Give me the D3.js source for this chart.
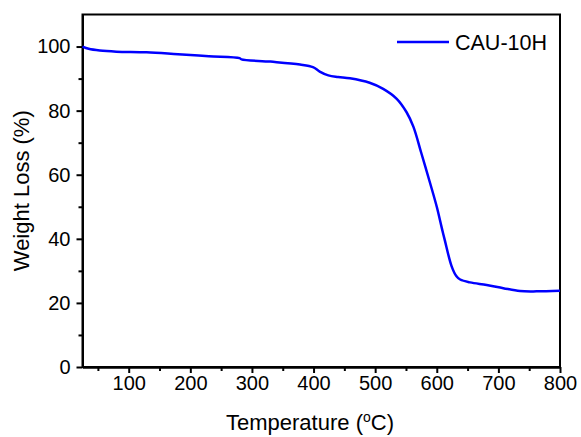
<!DOCTYPE html>
<html>
<head>
<meta charset="utf-8">
<script src="https://cdn.jsdelivr.net/npm/d3@7"></script>
<style>
  html, body { margin: 0; padding: 0; background: #fff; }
  svg { display: block; font-family: Arial, "Liberation Sans", sans-serif; }
</style>
</head>
<body>
<svg id="chart" width="581" height="437"></svg>
<script>
// ---- data ----
const temperature = [25, 35, 53, 80, 129, 180, 230, 280, 283, 330, 378, 399, 410, 424, 440, 459, 491, 513, 535, 551, 562, 575, 589, 600, 608, 613, 624, 632, 638, 654, 681, 708, 735, 762, 800];
const weight = [100, 99.3, 98.75, 98.4, 98.2, 97.6, 97.0, 96.4, 96.0, 95.3, 94.4, 93.6, 92.2, 91.0, 90.5, 90.1, 88.7, 86.8, 83.7, 79.5, 75.0, 66.7, 57.5, 50.0, 43.5, 39.6, 31.5, 28.3, 27.3, 26.4, 25.6, 24.6, 23.7, 23.6, 23.8];
const xMajorTicks = [100, 200, 300, 400, 500, 600, 700, 800];
const xMinorTicks = [50, 150, 250, 350, 450, 550, 650, 750];
const yMajorTicks = [0, 20, 40, 60, 80, 100];
const yMinorTicks = [10, 30, 50, 70, 90];
const seriesName = "CAU-10H";

// ---- layout ----
const mLeft = 82.5, mRight = 560, mTop = 14.5, mBottom = 367;
const FONT = "Arial, 'Liberation Sans', sans-serif";
const svg = d3.select("#chart");
const x = d3.scaleLinear().domain([25, 800]).range([mLeft, mRight]);
const y = d3.scaleLinear().domain([0, 110]).range([mBottom, mTop]);

// frame
svg.append("rect")
  .attr("x", mLeft).attr("y", mTop)
  .attr("width", mRight - mLeft).attr("height", mBottom - mTop)
  .attr("fill", "none").attr("stroke", "#000").attr("stroke-width", 2);

function styleAxis(g) {
  g.attr("font-family", FONT);
  g.select(".domain").attr("stroke", "#000").attr("stroke-width", 2);
  g.selectAll(".tick line").attr("stroke", "#000").attr("stroke-width", 2);
  g.selectAll(".tick text").attr("fill", "#000").attr("font-size", "20px")
    .attr("font-family", FONT);
}

// x axis
const gx = svg.append("g").attr("transform", `translate(0,${mBottom})`)
  .call(d3.axisBottom(x).tickValues(xMajorTicks).tickFormat(d3.format("d")).tickSize(6).tickPadding(3).tickSizeOuter(0));
styleAxis(gx);
const gxm = svg.append("g").attr("transform", `translate(0,${mBottom})`)
  .call(d3.axisBottom(x).tickValues(xMinorTicks).tickFormat("").tickSize(4).tickSizeOuter(0));
styleAxis(gxm);

// y axis
const gy = svg.append("g").attr("transform", `translate(${mLeft},0)`)
  .call(d3.axisLeft(y).tickValues(yMajorTicks).tickFormat(d3.format("d")).tickSize(6).tickPadding(6).tickSizeOuter(0));
styleAxis(gy);
const gym = svg.append("g").attr("transform", `translate(${mLeft},0)`)
  .call(d3.axisLeft(y).tickValues(yMinorTicks).tickFormat("").tickSize(4).tickSizeOuter(0));
styleAxis(gym);

// curve
const pts = temperature.map((t, i) => [t, weight[i]]);
svg.append("path")
  .datum(pts)
  .attr("fill", "none")
  .attr("stroke", "#0000ff")
  .attr("stroke-width", 2.5)
  .attr("stroke-linejoin", "round")
  .attr("d", d3.line().x(d => x(d[0])).y(d => y(d[1])).curve(d3.curveCatmullRom.alpha(0.5)));

// legend
svg.append("line")
  .attr("x1", 397).attr("x2", 449).attr("y1", 42).attr("y2", 42)
  .attr("stroke", "#0000ff").attr("stroke-width", 2.5);
svg.append("text")
  .attr("x", 455).attr("y", 50)
  .attr("font-family", FONT)
  .attr("font-size", "21.5px").attr("fill", "#000")
  .text(seriesName);

// axis titles
const xt = svg.append("text")
  .attr("x", 310).attr("y", 430)
  .attr("text-anchor", "middle")
  .attr("font-family", FONT)
  .attr("font-size", "22px").attr("fill", "#000");
xt.append("tspan").text("Temperature (");
xt.append("tspan").attr("font-size", "14px").attr("dy", -8).text("o");
xt.append("tspan").attr("dy", 8).text("C)");

svg.append("text")
  .attr("transform", `translate(29,${(mTop + mBottom) / 2}) rotate(-90)`)
  .attr("text-anchor", "middle")
  .attr("font-family", FONT)
  .attr("font-size", "22px").attr("fill", "#000")
  .text("Weight Loss (%)");
</script>
</body>
</html>
